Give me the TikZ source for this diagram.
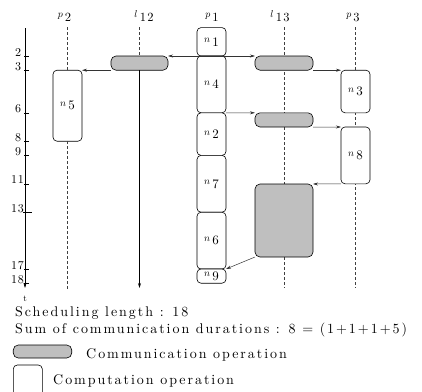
\documentclass[tikz,border=0pt]{standalone}
\usepackage{fontspec}
\setmainfont{lmroman10-regular}[Extension=.otf, ItalicFont=lmroman10-italic, BoldFont=lmroman10-bold]
\usetikzlibrary{arrows.meta}
\definecolor{commgray}{RGB}{191,191,191}
\newcommand{\lsp}{\addfontfeatures{LetterSpace=14}}
\newcommand{\lab}[2]{\raisebox{0.6ex}{\fontsize{10}{11}\selectfont$#1$}\,{#2}}
\begin{document}
\begin{tikzpicture}[x=1pt,y=-1pt,
  comp/.style={draw, line width=0.6pt, rounded corners=4pt, fill=white, minimum width=29pt, inner sep=0pt, outer sep=0pt, font=\fontsize{13}{15}\selectfont},
  comm/.style={draw, line width=0.6pt, rounded corners=5pt, fill=commgray, minimum width=57pt, inner sep=0pt, outer sep=0pt},
  arr/.style={line width=0.5pt, black!80, -{Stealth[length=5pt,width=3pt]}},
  dline/.style={line width=0.5pt, black!75, dash pattern=on 3pt off 2pt},
  hdr/.style={anchor=base, inner sep=0pt, font=\fontsize{12.5}{14}\selectfont\addfontfeatures{LetterSpace=10}},
  axlab/.style={anchor=base west, inner sep=0pt, font=\fontsize{12}{14}\selectfont\addfontfeatures{LetterSpace=6}},
  txt/.style={anchor=base west, inner sep=0pt, font=\fontsize{14}{16}\selectfont\lsp}
]
\clip (0,0) rectangle (422,391);
% headers
\node[hdr] (hp2) at (64.5,21) {\lab{p}{2}};
\node[hdr] (hl12) at (144,21) {\lab{l}{12}};
\node[hdr] (hp1) at (212,21) {\lab{p}{1}};
\node[hdr] (hl13) at (280,21) {\lab{l}{13}};
\node[hdr] (hp3) at (353,21) {\lab{p}{3}};
% dashed lines
\coordinate (p2top) at (67.5,27);
\coordinate (p2bot) at (67.5,290);
\coordinate (l12top) at (139.5,27);
\coordinate (l12bot) at (139.5,288);
\coordinate (l13top) at (284,27);
\coordinate (l13bot) at (284,288);
\coordinate (p3top) at (355.5,27);
\coordinate (p3bot) at (355.5,288);
\draw[dline] (l13top) -- (l13bot);
\draw[dline] (p3top) -- (p3bot);
% time axis
\coordinate (axtop) at (25,28);
\coordinate (axbot) at (25,288);
\draw[line width=0.6pt, -{Stealth[length=5pt,width=3pt]}] (axtop) -- (axbot);
\foreach \t in {2,3,6,8,9,11,17,18} \draw[line width=0.5pt] (24,{27.6+14.2*\t}) -- (29,{27.6+14.2*\t});
\draw[line width=0.5pt] (23,{27.6+14.2*13}) -- (32,{27.6+14.2*13});
\foreach \t in {2,3,6,8,9} \node[axlab] (ax\t) at (15,{27.6+14.2*\t}) {\t};
\foreach \t in {11,13,17,18} \node[axlab] (ax\t) at (11,{27.6+14.2*\t}) {\t};
\node[anchor=base, inner sep=0pt, font=\fontsize{9}{11}\selectfont] (tlab) at (25,301) {t};
% p1 column
\node[comp, minimum height=28.4pt] (n1) at (211.5,41.8) {\lab{n}{1}};
\node[comp, minimum height=56.8pt] (n4) at (211.5,84.4) {\lab{n}{4}};
\node[comp, minimum height=42.6pt] (n2) at (211.5,134.1) {\lab{n}{2}};
\node[comp, minimum height=56.8pt] (n7) at (211.5,183.8) {\lab{n}{7}};
\node[comp, minimum height=56.8pt] (n6) at (211.5,240.6) {\lab{n}{6}};
\node[comp, minimum height=14.2pt] (n9) at (211.5,276.1) {\lab{n}{9}};
% p2
\node[comp, minimum height=71pt] (n5) at (67.5,105.7) {\lab{n}{5}};
\draw[dline] (p2top) -- (n5.north);
\draw[dline] (n5.south) -- (p2bot);
% p3
\node[comp, minimum height=42.6pt] (n3) at (355.5,91.5) {\lab{n}{3}};
\node[comp, minimum height=56.8pt] (n8) at (355.5,155.4) {\lab{n}{8}};
% communications
\node[comm, minimum height=14.2pt] (c12) at (139.5,63.1) {};
\node[comm, minimum height=14.2pt, minimum width=58pt] (c13a) at (284,63.1) {};
\node[comm, minimum height=14.2pt, minimum width=58pt] (c13b) at (284,119.9) {};
\node[comm, minimum height=73pt, minimum width=58pt] (c13c) at (284,220.5) {};
\draw[dline] (l12top) -- (c12.north);
\draw[line width=0.6pt, -{Stealth[length=5pt,width=3pt]}] (c12.south) -- (l12bot);
% arrows
\draw[arr] (n1.south) -- (c12.north east);
\draw[arr] (n1.south) -- (c13a.north west);
\draw[arr] (c12.south west) -- (n5.north east);
\draw[arr] (c13a.south east) -- (n3.north west);
\draw[arr] (n4.south east) -- (c13b.north west);
\draw[arr] (c13b.south east) -- (n8.north west);
\draw[arr] (n8.south west) -- (c13c.north east);
\draw[arr] (c13c.south west) -- (n9.north east);
% text
\node[txt] (sched) at (15,316.7) {Scheduling length : 18};
\node[txt] (sum) at (15,333.3) {Sum of communication durations : 8 = (1+1+1+5)};
\node[comm, minimum width=58.5pt, minimum height=13pt] (legcomm) at (42.5,351.5) {};
\node[txt] (legcommtxt) at (86,358) {Communication operation};
\node[comp, minimum height=40pt] (legcomp) at (27.8,385) {};
\node[txt] (legcomptxt) at (53,384) {Computation operation};
\end{tikzpicture}
\end{document}
